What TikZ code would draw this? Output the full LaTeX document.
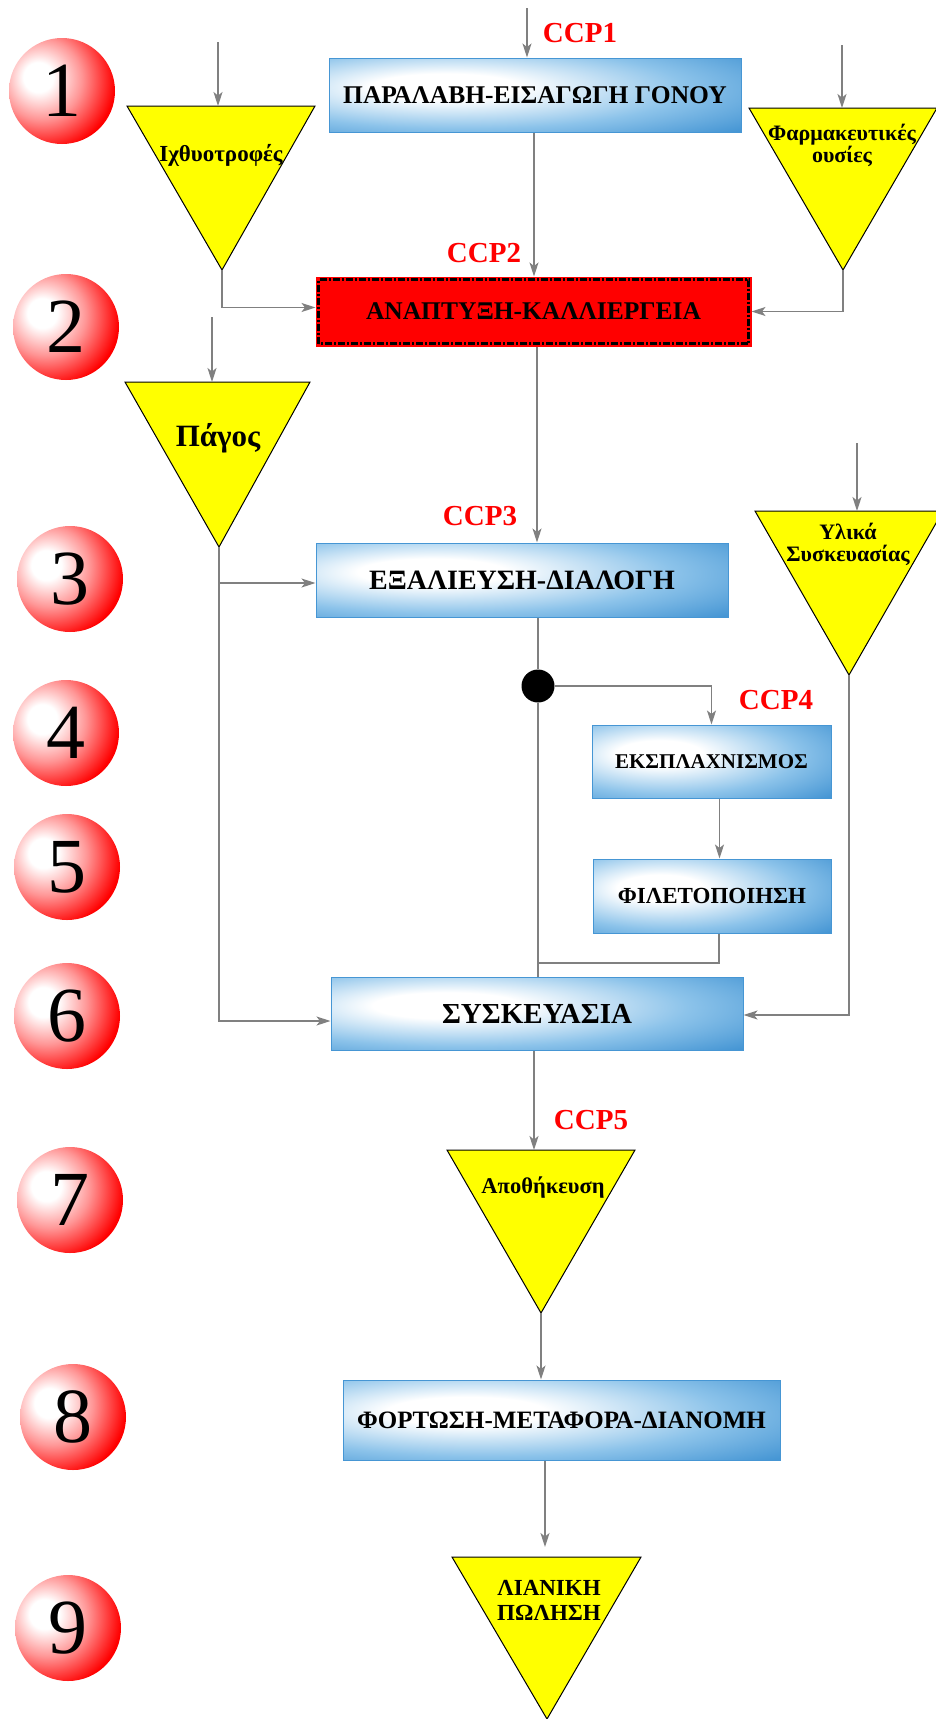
\documentclass[tikz,border=0pt]{standalone}
\usepackage{fontspec}
\setmainfont{Liberation Serif}
\usetikzlibrary{arrows.meta}
\definecolor{arrgray}{RGB}{128,128,128}
\definecolor{bla}{RGB}{140,195,234}
\definecolor{blb}{RGB}{70,150,212}
\definecolor{blc}{RGB}{50,132,200}
\definecolor{bedge}{RGB}{70,150,212}
\definecolor{ballred}{RGB}{255,0,0}
\definecolor{ballpink}{RGB}{255,150,150}
\definecolor{ccpred}{RGB}{255,0,0}
\definecolor{triyellow}{RGB}{255,255,0}
\pgfdeclareradialshading{boxshade}{\pgfpoint{-12bp}{6bp}}{color(0bp)=(white); color(9bp)=(white); color(27bp)=(bla); color(42bp)=(blb); color(100bp)=(blc)}
\pgfdeclareradialshading{ballshade}{\pgfpoint{-12bp}{7bp}}{color(0bp)=(white); color(7bp)=(white); color(19bp)=(ballpink); color(33bp)=(ballred); color(100bp)=(ballred)}
\tikzset{
  ballnode/.style={circle, minimum size=106pt, inner sep=0pt, shading=ballshade, font=\fontsize{78}{78}\selectfont},
  procbox/.style={rectangle, inner sep=0pt, shading=boxshade, draw=bedge, line width=1pt, font=\bfseries\fontsize{25.5}{25.5}\selectfont},
  redbox/.style={rectangle, inner sep=0pt, fill=red, draw=red, line width=1pt},
  ccp/.style={text=ccpred, font=\bfseries\fontsize{29}{29}\selectfont, inner sep=0pt},
  tritext/.style={font=\bfseries\fontsize{22}{20}\selectfont, align=center, inner sep=0pt},
  tri/.style={fill=triyellow, draw=black, line width=1pt},
  arr/.style={draw=arrgray, line width=1.4pt, -{Stealth[length=14pt,width=9pt,inset=3.5pt]}},
  ln/.style={draw=arrgray, line width=1.4pt},
  dashdotline/.style={draw=black, line width=2.5pt, dash pattern=on 7pt off 2pt on 2pt off 2pt}
}
\begin{document}
\begin{tikzpicture}[x=1pt,y=-1pt]
\path[use as bounding box, fill=white] (0,0) rectangle (936,1719);

% numbered balls
\node[ballnode] (n1) at (62,91) {1};
\node[ballnode] (n2) at (66,327) {2};
\node[ballnode] (n3) at (70,579) {3};
\node[ballnode] (n4) at (66,733) {4};
\node[ballnode] (n5) at (67,867) {5};
\node[ballnode] (n6) at (67,1016) {6};
\node[ballnode] (n7) at (70,1200) {7};
\node[ballnode] (n8) at (73,1417) {8};
\node[ballnode] (n9) at (68,1628) {9};

% triangles
\coordinate (ichL) at (127,106); \coordinate (ichR) at (315,106); \coordinate (ichApex) at (222,270);
\coordinate (phL) at (749,108); \coordinate (phR) at (937,108); \coordinate (phApex) at (843,270);
\coordinate (pgL) at (125,382); \coordinate (pgR) at (310,382); \coordinate (pgApex) at (219,547);
\coordinate (ylL) at (755,511); \coordinate (ylR) at (943,511); \coordinate (ylApex) at (849,675);
\coordinate (apL) at (447,1150); \coordinate (apR) at (635,1150); \coordinate (apApex) at (541,1313);
\coordinate (liL) at (452,1557); \coordinate (liR) at (641,1557); \coordinate (liApex) at (547,1719);
\path[tri] (ichL) -- (ichR) -- (ichApex) -- cycle;
\path[tri] (phL) -- (phR) -- (phApex) -- cycle;
\path[tri] (pgL) -- (pgR) -- (pgApex) -- cycle;
\path[tri] (ylL) -- (ylR) -- (ylApex) -- cycle;
\path[tri] (apL) -- (apR) -- (apApex) -- cycle;
\path[tri] (liL) -- (liR) -- (liApex) -- cycle;
\node[tritext, font=\bfseries\fontsize{23}{23}\selectfont] (ichtxt) at (221,155) {Ιχθυοτροφές};
\node[tritext] (phtxt) at (842,145) {Φαρμακευτικές\\ουσίες};
\node[tritext, font=\bfseries\fontsize{31}{31}\selectfont] (pgtxt) at (218,438) {Πάγος};
\node[tritext, font=\bfseries\fontsize{22}{22}\selectfont] (yltxt) at (848,544) {Υλικά\\Συσκευασίας};
\node[tritext, font=\bfseries\fontsize{22.5}{22.5}\selectfont] (aptxt) at (543,1188) {Αποθήκευση};
\node[tritext, font=\bfseries\fontsize{23}{25}\selectfont] (litxt) at (549,1600) {ΛΙΑΝΙΚΗ\\ΠΩΛΗΣΗ};

% process boxes
\node[procbox, minimum width=412pt, minimum height=74pt] (b1) at (535,95) {ΠΑΡΑΛΑΒΗ-ΕΙΣΑΓΩΓΗ ΓΟΝΟΥ};
\node[redbox, minimum width=435pt, minimum height=69pt] (b2) at (533.5,311.5) {};
\draw[dashdotline] ([xshift=3pt,yshift=3pt]b2.south west) rectangle ([xshift=-3pt,yshift=-3pt]b2.north east);
\node[font=\bfseries\fontsize{25.5}{25.5}\selectfont] (b2txt) at (b2.center) {ΑΝΑΠΤΥΞΗ-ΚΑΛΛΙΕΡΓΕΙΑ};
\node[procbox, minimum width=412pt, minimum height=74pt, font=\bfseries\fontsize{28}{28}\selectfont] (b3) at (522,580) {ΕΞΑΛΙΕΥΣΗ-ΔΙΑΛΟΓΗ};
\node[procbox, minimum width=239pt, minimum height=73pt, font=\bfseries\fontsize{21}{21}\selectfont] (b4) at (711.5,761.5) {ΕΚΣΠΛΑΧΝΙΣΜΟΣ};
\node[procbox, minimum width=238pt, minimum height=74pt, font=\bfseries\fontsize{23}{23}\selectfont] (b5) at (712,896) {ΦΙΛΕΤΟΠΟΙΗΣΗ};
\node[procbox, minimum width=412pt, minimum height=73pt, font=\bfseries\fontsize{29}{29}\selectfont] (b6) at (537,1013.5) {ΣΥΣΚΕΥΑΣΙΑ};
\node[procbox, minimum width=437pt, minimum height=80pt, font=\bfseries\fontsize{25}{25}\selectfont] (b8) at (561.5,1420) {ΦΟΡΤΩΣΗ-ΜΕΤΑΦΟΡΑ-ΔΙΑΝΟΜΗ};

% junction
\node[circle, fill=black, minimum size=33pt, inner sep=0pt] (dot) at (538,686) {};
\coordinate (merge) at (538,963);

% CCP labels
\node[ccp] (ccp1) at (580,33) {CCP1};
\node[ccp] (ccp2) at (484,253) {CCP2};
\node[ccp] (ccp3) at (480,516) {CCP3};
\node[ccp] (ccp4) at (776,700) {CCP4};
\node[ccp] (ccp5) at (591,1120) {CCP5};

% incoming free ends
\coordinate (in1) at (527,8);
\coordinate (ichIn) at (218,42);
\coordinate (phIn) at (842,45);
\coordinate (pgIn) at (212,317);
\coordinate (ylIn) at (857,443);
\coordinate (apTop) at (534,1150);
\coordinate (liIn) at (545,1547);

% connectors
\draw[arr] (in1) -- (in1 |- b1.north);
\draw[arr] ([xshift=-1pt]b1.south) -- ([xshift=-1pt]b1.south |- b2.north);
\draw[arr] (ichIn) -- (ichIn |- ichL);
\draw[arr] (phIn) -- (phIn |- phL);
\draw[arr] (ichApex) |- ([yshift=4pt]b2.west);
\draw[arr] (phApex) |- (b2.east);
\draw[arr] ([xshift=3.5pt]b2.south) -- ([xshift=3.5pt]b2.south |- b3.north);
\draw[arr] (pgIn) -- (pgIn |- pgL);
\draw[arr] (pgApex) |- ([yshift=-3pt]b3.west);
\draw[arr] (pgApex) |- ([yshift=-7.5pt]b6.west);
\draw[ln] (dot |- b3.south) -- (dot);
\draw[arr] (dot) -| (b4.north);
\draw[ln] (dot) -- (dot |- b6.north);
\draw[arr] ([xshift=8pt]b4.south) -- ([xshift=8pt]b4.south |- b5.north);
\draw[ln] ([xshift=7pt]b5.south) |- (merge);
\draw[arr] (ylIn) -- (ylIn |- ylL);
\draw[arr] (ylApex) |- ([yshift=-1.5pt]b6.east);
\draw[arr] (apTop |- b6.south) -- (apTop);
\draw[arr] (apApex) -- (apApex |- b8.north);
\draw[arr] (liIn |- b8.south) -- (liIn);
\end{tikzpicture}
\end{document}
